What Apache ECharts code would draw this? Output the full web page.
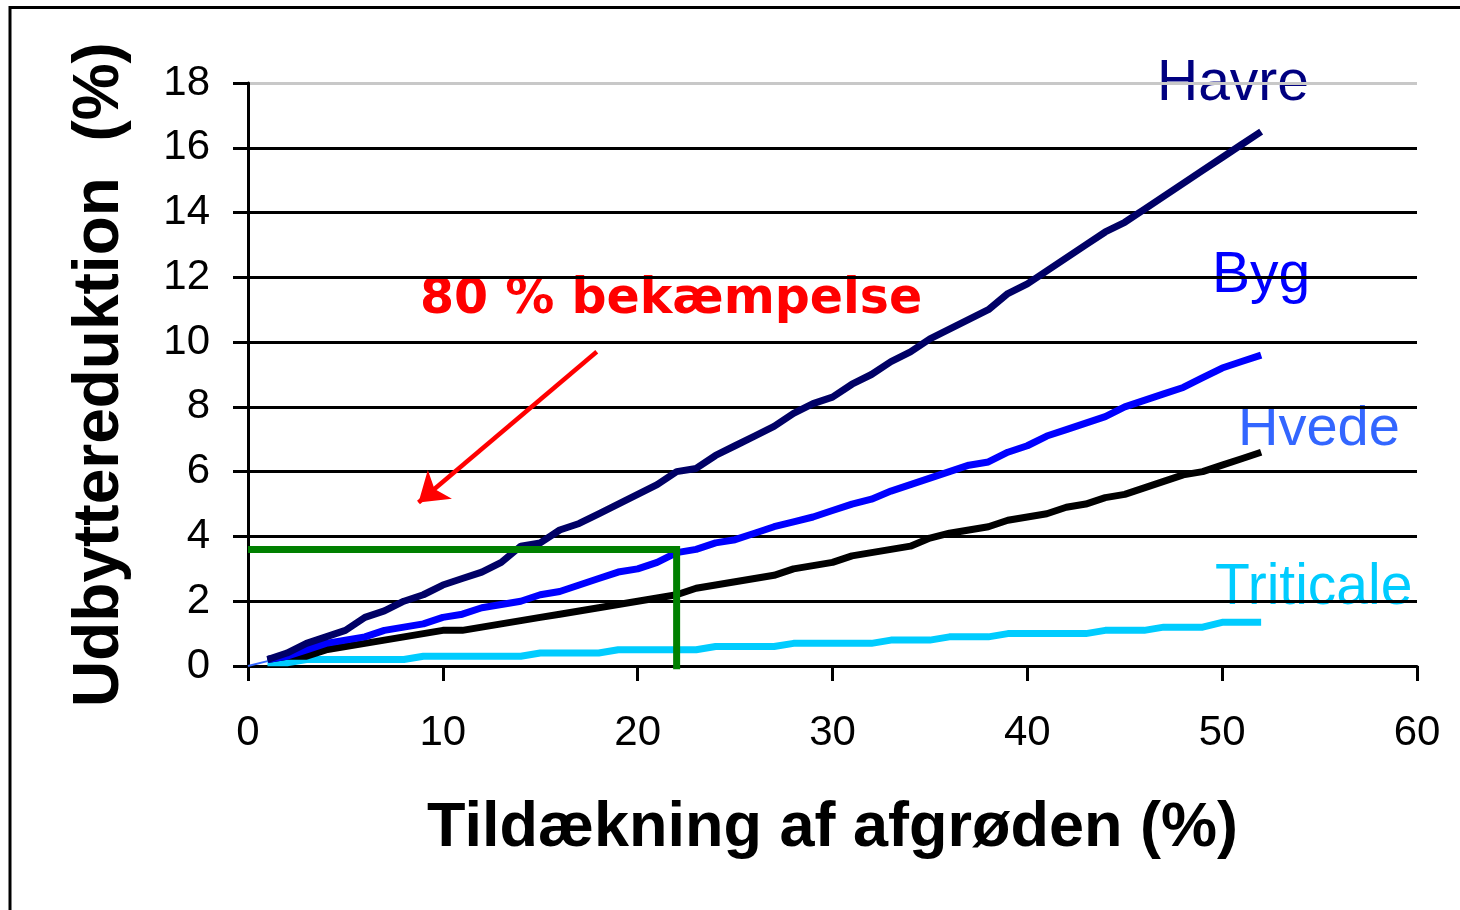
<!DOCTYPE html>
<html>
<head>
<meta charset="utf-8">
<title>Udbyttereduktion</title>
<script src="https://cdn.jsdelivr.net/npm/echarts/dist/echarts.min.js"></script>
<style>
  html, body { margin: 0; padding: 0; background: #fff; }
  #chart { width: 1460px; height: 910px; }
</style>
</head>
<body>
<div id="chart"></div>
<script>
// tildækning af afgrøden (%)
var cover = [1,2,3,4,5,6,7,8,9,10,11,12,13,14,15,16,17,18,19,20,21,22,23,24,25,26,
             27,28,29,30,31,32,33,34,35,36,37,38,39,40,41,42,43,44,45,46,47,48,49,50,51,52];
// udbyttereduktion (%)
var havre = [0.2,0.4,0.7,0.9,1.1,1.5,1.7,2.0,2.2,2.5,2.7,2.9,3.2,3.7,3.8,4.2,4.4,4.7,5.0,5.3,5.6,6.0,6.1,6.5,6.8,7.1,
             7.4,7.8,8.1,8.3,8.7,9.0,9.4,9.7,10.1,10.4,10.7,11.0,11.5,11.8,12.2,12.6,13.0,13.4,13.7,14.1,14.5,14.9,15.3,15.7,16.1,16.5];
var byg = [0.2,0.3,0.5,0.7,0.8,0.9,1.1,1.2,1.3,1.5,1.6,1.8,1.9,2.0,2.2,2.3,2.5,2.7,2.9,3.0,3.2,3.5,3.6,3.8,3.9,4.1,
           4.3,4.45,4.6,4.8,5.0,5.15,5.4,5.6,5.8,6.0,6.2,6.3,6.6,6.8,7.1,7.3,7.5,7.7,8.0,8.2,8.4,8.6,8.9,9.2,9.4,9.6];
var hvede = [0.2,0.3,0.3,0.5,0.6,0.7,0.8,0.9,1.0,1.1,1.1,1.2,1.3,1.4,1.5,1.6,1.7,1.8,1.9,2.0,2.1,2.2,2.4,2.5,2.6,2.7,
             2.8,3.0,3.1,3.2,3.4,3.5,3.6,3.7,3.95,4.1,4.2,4.3,4.5,4.6,4.7,4.9,5.0,5.2,5.3,5.5,5.7,5.9,6.0,6.2,6.4,6.6];
var triticale = [0.1,0.1,0.2,0.2,0.2,0.2,0.2,0.2,0.3,0.3,0.3,0.3,0.3,0.3,0.4,0.4,0.4,0.4,0.5,0.5,0.5,0.5,0.5,0.6,0.6,0.6,
                 0.6,0.7,0.7,0.7,0.7,0.7,0.8,0.8,0.8,0.9,0.9,0.9,1.0,1.0,1.0,1.0,1.0,1.1,1.1,1.1,1.2,1.2,1.2,1.35,1.35,1.35];
// tynd startlinje fra origo
var startX = [0, 1];
var startY = [0, 0.15];
// 80 % bekæmpelse: aflæsning
var readX = [0, 22, 22];
var readY = [3.6, 3.6, -0.1];
// pil
var arrowFrom = [17.9, 9.7];
var arrowTo = [8.75, 5.05];

var xTicks = [0, 10, 20, 30, 40, 50, 60];
var yTicks = [0, 2, 4, 6, 8, 10, 12, 14, 16, 18];

function pairs(xs, ys) {
    return xs.map(function (x, i) { return [x, ys[i]]; });
}

var myChart = echarts.init(document.getElementById('chart'));
var option = {
    animation: false,
    backgroundColor: '#fff',
    textStyle: { fontFamily: 'Liberation Sans, Arial, sans-serif' },
    grid: { left: 248, top: 83, width: 1169, height: 583 },
    xAxis: {
        type: 'value',
        min: xTicks[0],
        max: xTicks[xTicks.length - 1],
        interval: 10,
        name: 'Tildækning af afgrøden (%)',
        nameLocation: 'middle',
        nameGap: 131,
        nameTextStyle: { fontSize: 63, fontWeight: 'bold', color: '#000' },
        axisLine: { lineStyle: { color: '#000', width: 3 } },
        axisTick: { length: 15, lineStyle: { color: '#000', width: 3 } },
        axisLabel: { fontSize: 42, color: '#000', margin: 46 },
        splitLine: { show: false }
    },
    yAxis: {
        type: 'value',
        min: yTicks[0],
        max: yTicks[yTicks.length - 1],
        interval: 2,
        name: 'Udbyttereduktion  (%)',
        nameLocation: 'middle',
        nameGap: 116,
        nameTextStyle: { fontSize: 64, fontWeight: 'bold', color: '#000' },
        axisLine: { show: true, lineStyle: { color: '#000', width: 3 } },
        axisTick: { show: true, length: 15, lineStyle: { color: '#000', width: 3 } },
        axisLabel: { fontSize: 42, color: '#000', margin: 38 },
        splitLine: {
            show: true,
            lineStyle: {
                width: 3,
                color: ['#000', '#000', '#000', '#000', '#000', '#000', '#000', '#000', '#000', '#c8c8c8']
            }
        }
    },
    series: [
        {
            name: 'start', type: 'line', data: pairs(startX, startY), symbol: 'none',
            lineStyle: { color: '#3366ff', width: 2 }, z: 1
        },
        {
            name: 'Triticale', type: 'line', data: pairs(cover, triticale), symbol: 'none',
            lineStyle: { color: '#00ccff', width: 7 }
        },
        {
            name: 'Hvede', type: 'line', data: pairs(cover, hvede), symbol: 'none',
            lineStyle: { color: '#000000', width: 7 }
        },
        {
            name: 'Byg', type: 'line', data: pairs(cover, byg), symbol: 'none',
            lineStyle: { color: '#0000ff', width: 7 }
        },
        {
            name: 'Havre', type: 'line', data: pairs(cover, havre), symbol: 'none',
            lineStyle: { color: '#000066', width: 7 }
        },
        {
            name: 'aflæsning', type: 'line', data: pairs(readX, readY), symbol: 'none', clip: false,
            lineStyle: { color: '#008000', width: 7, join: 'miter' }, z: 5
        },
        {
            name: 'pil', type: 'lines', coordinateSystem: 'cartesian2d',
            symbol: ['none', 'arrow'], symbolSize: [0, 28],
            lineStyle: { color: '#ff0000', width: 4.5, opacity: 1 },
            data: [{ coords: [arrowFrom, arrowTo] }], z: 6
        }
    ],
    graphic: [
        {
            type: 'rect', silent: true,
            shape: { x: 10, y: 7.5, width: 1480, height: 1000 },
            style: { fill: 'none', stroke: '#000', lineWidth: 3 }
        },
        {
            type: 'text', left: 1157, top: 56,
            style: { text: 'Havre', fill: '#000080', font: '57px "Liberation Sans", Arial, sans-serif' }
        },
        {
            type: 'text', left: 1212, top: 248,
            style: { text: 'Byg', fill: '#0000ff', font: '57px "Liberation Sans", Arial, sans-serif' }
        },
        {
            type: 'text', left: 1238, top: 402,
            style: { text: 'Hvede', fill: '#3366ff', font: '56px "Liberation Sans", Arial, sans-serif' }
        },
        {
            type: 'text', left: 1215, top: 560,
            style: { text: 'Triticale', fill: '#00ccff', font: '57px "Liberation Sans", Arial, sans-serif' }
        },
        {
            type: 'text', left: 420, top: 276,
            style: { text: '80 % bekæmpelse', fill: '#ff0000', font: 'bold 49px "DejaVu Sans", Verdana, sans-serif' }
        }
    ]
};
myChart.setOption(option, true);
window.addEventListener('resize', function () {
    myChart.resize();
});
</script>
</body>
</html>
